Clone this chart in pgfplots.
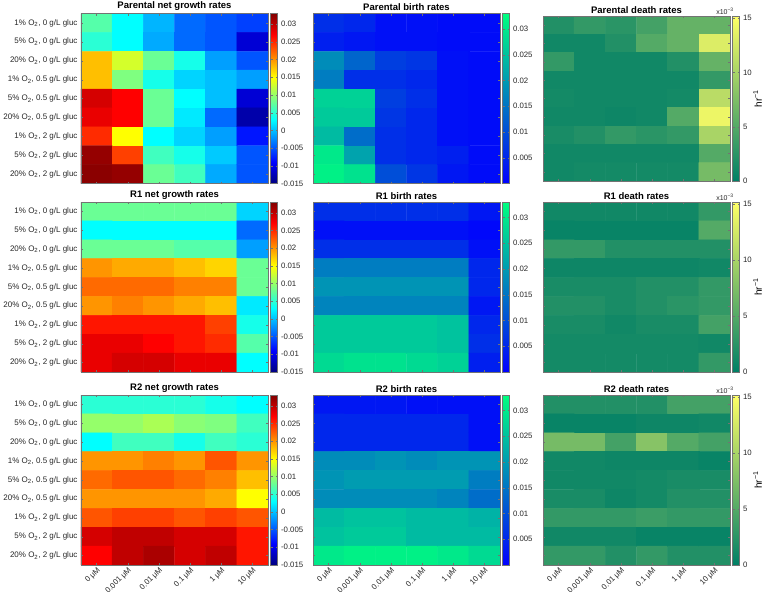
\documentclass[border=0pt]{standalone}
\usepackage{fontspec}
\setmainfont{Liberation Sans}
\usepackage{pgfplots}
\pgfplotsset{compat=1.18}
\pgfplotsset{
  colormap={jetML}{rgb255(0cm)=(0,0,128) rgb255(1cm)=(0,0,255) rgb255(3cm)=(0,255,255) rgb255(5cm)=(255,255,0) rgb255(7cm)=(255,0,0) rgb255(8cm)=(128,0,0)},
  colormap={winterML}{rgb(0cm)=(0,0,1) rgb(1cm)=(0,1,0.5)},
  colormap={summerML}{rgb(0cm)=(0,0.5,0.4) rgb(1cm)=(1,1,0.4)},
  hm/.style={
    scale only axis, width=187pt, height=170pt, anchor=north west,
    xmin=-0.5, xmax=5.5, ymin=-0.5, ymax=8.5, y dir=reverse,
    enlargelimits=false, axis on top,
    xtick={0,...,5}, ytick={0,...,8},
    xticklabel=\empty, yticklabel=\empty,
    tick align=inside, major tick length=2pt,
    axis line style={black!55}, tick style={black!55},
    title style={font=\fontsize{9.5}{11}\selectfont\bfseries, yshift=-7pt},
    tick label style={font=\fontsize{8}{9}\selectfont, text=black!85},
    point meta=explicit,
    colorbar,
    colorbar style={
      width=7pt, at={(parent axis.north east)}, anchor=north west, xshift=-6pt,
      yticklabel pos=right, tick align=inside, major tick length=2pt,
      axis line style={black!55}, tick style={black!55}, scaled y ticks=false,
      tick label style={font=\fontsize{7.8}{9}\selectfont, text=black!85},
    },
  },
  netcb/.style={colormap name=jetML, point meta min=-0.015, point meta max=0.033,
    colorbar style={ytick={-0.015,-0.01,-0.005,0,0.005,0.01,0.015,0.02,0.025,0.03},
      yticklabels={-0.015,-0.01,-0.005,0,0.005,0.01,0.015,0.02,0.025,0.03}}},
  birthcb/.style={colormap name=winterML, point meta min=0, point meta max=0.033,
    colorbar style={ytick={0.005,0.01,0.015,0.02,0.025,0.03},
      yticklabels={0.005,0.01,0.015,0.02,0.025,0.03}}},
  deathcb/.style={colormap name=summerML, point meta min=0, point meta max=15.2,
    colorbar style={ytick={0,5,10,15}, yticklabels={0,5,10,15},
      extra description/.code={
        \node[anchor=south east, inner sep=0pt, font=\fontsize{7}{8}\selectfont, text=black!85] at (axis description cs:0.2,1.005) {x10\textsuperscript{−3}};
        \node[xshift=18pt, rotate=90, font=\fontsize{10}{12}\selectfont] at (axis description cs:1,0.5) {hr\textsuperscript{−1}};
      }}},
  rowlabels/.style={yticklabels={{1\% O\textsubscript{2}, 0 g/L gluc},{5\% O\textsubscript{2}, 0 g/L gluc},{20\% O\textsubscript{2}, 0 g/L gluc},{1\% O\textsubscript{2}, 0.5 g/L gluc},{5\% O\textsubscript{2}, 0.5 g/L gluc},{20\% O\textsubscript{2}, 0.5 g/L gluc},{1\% O\textsubscript{2}, 2 g/L gluc},{5\% O\textsubscript{2}, 2 g/L gluc},{20\% O\textsubscript{2}, 2 g/L gluc}}},
  collabels/.style={xticklabels={0 μM,0.001 μM,0.01 μM,0.1 μM,1 μM,10 μM},
    xticklabel style={rotate=45, anchor=north east, inner sep=1pt, font=\fontsize{7.8}{9}\selectfont}},
}
\begin{document}
\begin{tikzpicture}
\useasboundingbox (0,0) rectangle (764pt,-597pt);
% ---------------- Row 1: Parental
\begin{axis}[hm, netcb, rowlabels, at={(81pt,-13.5pt)}, title={Parental net growth rates}]
\addplot[matrix plot*, mesh/cols=6] coordinates {
(0,0)[0.007] (1,0)[0.003] (2,0)[-0.0005] (3,0)[-0.004] (4,0)[-0.005] (5,0)[-0.006]
(0,1)[0.005] (1,1)[0.003] (2,1)[-0.001] (3,1)[-0.004] (4,1)[-0.005] (5,1)[-0.011]
(0,2)[0.018] (1,2)[0.013] (2,2)[0.008] (3,2)[0.004] (4,2)[-0.0015] (5,2)[-0.005]
(0,3)[0.018] (1,3)[0.009] (2,3)[0.004] (3,3)[0.001] (4,3)[0.0] (5,3)[-0.0015]
(0,4)[0.029] (1,4)[0.027] (2,4)[0.008] (3,4)[0.003] (4,4)[0.0] (5,4)[-0.011]
(0,5)[0.028] (1,5)[0.027] (2,5)[0.008] (3,5)[0.002] (4,5)[-0.004] (5,5)[-0.013]
(0,6)[0.025] (1,6)[0.015] (2,6)[0.003] (3,6)[0.001] (4,6)[-0.0015] (5,6)[-0.008]
(0,7)[0.032] (1,7)[0.024] (2,7)[0.006] (3,7)[0.004] (4,7)[0.0005] (5,7)[-0.005]
(0,8)[0.0325] (1,8)[0.032] (2,8)[0.008] (3,8)[0.006] (4,8)[-0.001] (5,8)[-0.005]
};
\end{axis}
\begin{axis}[hm, birthcb, at={(313pt,-13.5pt)}, title={Parental birth rates}]
\addplot[matrix plot*, mesh/cols=6] coordinates {
(0,0)[0.006] (1,0)[0.005] (2,0)[0.002] (3,0)[0.002] (4,0)[0.0015] (5,0)[0.0015]
(0,1)[0.004] (1,1)[0.003] (2,1)[0.002] (3,1)[0.002] (4,1)[0.0015] (5,1)[0.0015]
(0,2)[0.018] (1,2)[0.013] (2,2)[0.008] (3,2)[0.007] (4,2)[0.002] (5,2)[0.0015]
(0,3)[0.016] (1,3)[0.006] (2,3)[0.006] (3,3)[0.005] (4,3)[0.002] (5,3)[0.0015]
(0,4)[0.027] (1,4)[0.027] (2,4)[0.008] (3,4)[0.006] (4,4)[0.002] (5,4)[0.0015]
(0,5)[0.026] (1,5)[0.026] (2,5)[0.007] (3,5)[0.005] (4,5)[0.002] (5,5)[0.0015]
(0,6)[0.024] (1,6)[0.014] (2,6)[0.006] (3,6)[0.005] (4,6)[0.002] (5,6)[0.0015]
(0,7)[0.030] (1,7)[0.021] (2,7)[0.006] (3,7)[0.005] (4,7)[0.004] (5,7)[0.0015]
(0,8)[0.031] (1,8)[0.029] (2,8)[0.010] (3,8)[0.007] (4,8)[0.003] (5,8)[0.0015]
};
\end{axis}
\begin{axis}[hm, deathcb, at={(543pt,-16pt)}, height=165pt, title={Parental death rates}]
\addplot[matrix plot*, mesh/cols=6] coordinates {
(0,0)[2] (1,0)[3] (2,0)[2.5] (3,0)[4] (4,0)[6] (5,0)[6]
(0,1)[1] (1,1)[1] (2,1)[2] (3,1)[5] (4,1)[6] (5,1)[13]
(0,2)[3] (1,2)[1] (2,2)[1] (3,2)[1] (4,2)[2] (5,2)[6]
(0,3)[1] (1,3)[1] (2,3)[1] (3,3)[1] (4,3)[1] (5,3)[3]
(0,4)[1.2] (1,4)[1] (2,4)[1] (3,4)[1] (4,4)[1.2] (5,4)[11]
(0,5)[1] (1,5)[1] (2,5)[0.8] (3,5)[1] (4,5)[5] (5,5)[14]
(0,6)[1.5] (1,6)[2] (2,6)[3] (3,6)[2.5] (4,6)[3] (5,6)[10]
(0,7)[1] (1,7)[1] (2,7)[1] (3,7)[1] (4,7)[1] (5,7)[5]
(0,8)[1] (1,8)[1.2] (2,8)[1.2] (3,8)[1.2] (4,8)[1.2] (5,8)[7]
};
\end{axis}
% ---------------- Row 2: R1
\begin{axis}[hm, netcb, rowlabels, at={(81pt,-202pt)}, title={R1 net growth rates}]
\addplot[matrix plot*, mesh/cols=6] coordinates {
(0,0)[0.008] (1,0)[0.008] (2,0)[0.008] (3,0)[0.008] (4,0)[0.008] (5,0)[0.001]
(0,1)[0.003] (1,1)[0.003] (2,1)[0.003] (3,1)[0.003] (4,1)[0.003] (5,1)[-0.004]
(0,2)[0.008] (1,2)[0.008] (2,2)[0.008] (3,2)[0.007] (4,2)[0.007] (5,2)[-0.0015]
(0,3)[0.020] (1,3)[0.019] (2,3)[0.019] (3,3)[0.018] (4,3)[0.017] (5,3)[0.008]
(0,4)[0.022] (1,4)[0.022] (2,4)[0.022] (3,4)[0.021] (4,4)[0.021] (5,4)[0.008]
(0,5)[0.020] (1,5)[0.021] (2,5)[0.020] (3,5)[0.019] (4,5)[0.018] (5,5)[0.002]
(0,6)[0.026] (1,6)[0.026] (2,6)[0.026] (3,6)[0.026] (4,6)[0.024] (5,6)[0.004]
(0,7)[0.028] (1,7)[0.028] (2,7)[0.027] (3,7)[0.026] (4,7)[0.025] (5,7)[0.007]
(0,8)[0.028] (1,8)[0.029] (2,8)[0.029] (3,8)[0.028] (4,8)[0.028] (5,8)[0.003]
};
\end{axis}
\begin{axis}[hm, birthcb, at={(313pt,-202pt)}, title={R1 birth rates}]
\addplot[matrix plot*, mesh/cols=6] coordinates {
(0,0)[0.006] (1,0)[0.006] (2,0)[0.006] (3,0)[0.006] (4,0)[0.006] (5,0)[0.003]
(0,1)[0.002] (1,1)[0.002] (2,1)[0.002] (3,1)[0.002] (4,1)[0.002] (5,1)[0.001]
(0,2)[0.006] (1,2)[0.006] (2,2)[0.006] (3,2)[0.006] (4,2)[0.006] (5,2)[0.002]
(0,3)[0.016] (1,3)[0.016] (2,3)[0.016] (3,3)[0.016] (4,3)[0.016] (5,3)[0.005]
(0,4)[0.019] (1,4)[0.019] (2,4)[0.019] (3,4)[0.019] (4,4)[0.019] (5,4)[0.005]
(0,5)[0.017] (1,5)[0.017] (2,5)[0.017] (3,5)[0.017] (4,5)[0.017] (5,5)[0.003]
(0,6)[0.026] (1,6)[0.026] (2,6)[0.026] (3,6)[0.026] (4,6)[0.025] (5,6)[0.005]
(0,7)[0.026] (1,7)[0.026] (2,7)[0.026] (3,7)[0.026] (4,7)[0.025] (5,7)[0.006]
(0,8)[0.028] (1,8)[0.029] (2,8)[0.029] (3,8)[0.028] (4,8)[0.027] (5,8)[0.004]
};
\end{axis}
\begin{axis}[hm, deathcb, at={(543pt,-202pt)}, title={R1 death rates}]
\addplot[matrix plot*, mesh/cols=6] coordinates {
(0,0)[1] (1,0)[1] (2,0)[1] (3,0)[1] (4,0)[1] (5,0)[3]
(0,1)[0.5] (1,1)[0.5] (2,1)[0.5] (3,1)[0.5] (4,1)[0.5] (5,1)[5]
(0,2)[3] (1,2)[3] (2,2)[2] (3,2)[2] (4,2)[2] (5,2)[2]
(0,3)[0.8] (1,3)[0.8] (2,3)[0.8] (3,3)[0.8] (4,3)[0.8] (5,3)[1]
(0,4)[1.5] (1,4)[1.5] (2,4)[1.5] (3,4)[2] (4,4)[2] (5,4)[3]
(0,5)[2] (1,5)[2] (2,5)[1.5] (3,5)[2] (4,5)[2.5] (5,5)[3]
(0,6)[1.5] (1,6)[1.5] (2,6)[1] (3,6)[1.5] (4,6)[1.5] (5,6)[4]
(0,7)[1.2] (1,7)[1.2] (2,7)[1.2] (3,7)[1.2] (4,7)[1.2] (5,7)[1]
(0,8)[1.2] (1,8)[1.2] (2,8)[1.2] (3,8)[1.2] (4,8)[1.2] (5,8)[3]
};
\end{axis}
% ---------------- Row 3: R2
\begin{axis}[hm, netcb, rowlabels, collabels, at={(81pt,-395pt)}, title={R2 net growth rates}]
\addplot[matrix plot*, mesh/cols=6] coordinates {
(0,0)[0.005] (1,0)[0.005] (2,0)[0.005] (3,0)[0.005] (4,0)[0.004] (5,0)[0.003]
(0,1)[0.010] (1,1)[0.010] (2,1)[0.011] (3,1)[0.0095] (4,1)[0.009] (5,1)[0.006]
(0,2)[0.003] (1,2)[0.006] (2,2)[0.006] (3,2)[0.004] (4,2)[0.006] (5,2)[0.005]
(0,3)[0.020] (1,3)[0.020] (2,3)[0.021] (3,3)[0.020] (4,3)[0.023] (5,3)[0.020]
(0,4)[0.022] (1,4)[0.023] (2,4)[0.023] (3,4)[0.022] (4,4)[0.021] (5,4)[0.018]
(0,5)[0.020] (1,5)[0.020] (2,5)[0.020] (3,5)[0.020] (4,5)[0.019] (5,5)[0.015]
(0,6)[0.023] (1,6)[0.024] (2,6)[0.024] (3,6)[0.023] (4,6)[0.024] (5,6)[0.023]
(0,7)[0.029] (1,7)[0.030] (2,7)[0.030] (3,7)[0.029] (4,7)[0.029] (5,7)[0.026]
(0,8)[0.027] (1,8)[0.030] (2,8)[0.031] (3,8)[0.029] (4,8)[0.030] (5,8)[0.026]
};
\end{axis}
\begin{axis}[hm, birthcb, collabels, at={(313pt,-395pt)}, title={R2 birth rates}]
\addplot[matrix plot*, mesh/cols=6] coordinates {
(0,0)[0.003] (1,0)[0.003] (2,0)[0.003] (3,0)[0.002] (4,0)[0.002] (5,0)[0.002]
(0,1)[0.005] (1,1)[0.005] (2,1)[0.005] (3,1)[0.005] (4,1)[0.005] (5,1)[0.002]
(0,2)[0.005] (1,2)[0.005] (2,2)[0.005] (3,2)[0.005] (4,2)[0.005] (5,2)[0.002]
(0,3)[0.018] (1,3)[0.018] (2,3)[0.019] (3,3)[0.018] (4,3)[0.019] (5,3)[0.019]
(0,4)[0.019] (1,4)[0.020] (2,4)[0.020] (3,4)[0.020] (4,4)[0.020] (5,4)[0.016]
(0,5)[0.018] (1,5)[0.018] (2,5)[0.018] (3,5)[0.018] (4,5)[0.017] (5,5)[0.014]
(0,6)[0.024] (1,6)[0.025] (2,6)[0.025] (3,6)[0.024] (4,6)[0.024] (5,6)[0.023]
(0,7)[0.025] (1,7)[0.026] (2,7)[0.026] (3,7)[0.024] (4,7)[0.024] (5,7)[0.024]
(0,8)[0.030] (1,8)[0.031] (2,8)[0.031] (3,8)[0.031] (4,8)[0.030] (5,8)[0.028]
};
\end{axis}
\begin{axis}[hm, deathcb, collabels, at={(543pt,-395pt)}, title={R2 death rates}]
\addplot[matrix plot*, mesh/cols=6] coordinates {
(0,0)[2] (1,0)[2] (2,0)[2] (3,0)[2] (4,0)[4] (5,0)[4]
(0,1)[0.5] (1,1)[0.5] (2,1)[0.5] (3,1)[0.8] (4,1)[0.8] (5,1)[1]
(0,2)[7] (1,2)[7] (2,2)[4] (3,2)[8] (4,2)[5] (5,2)[4]
(0,3)[1] (1,3)[1] (2,3)[0.8] (3,3)[0.8] (4,3)[0.8] (5,3)[0.5]
(0,4)[1] (1,4)[1] (2,4)[1] (3,4)[1.2] (4,4)[1.5] (5,4)[1.5]
(0,5)[1.5] (1,5)[1.5] (2,5)[0.8] (3,5)[1.2] (4,5)[2] (5,5)[2]
(0,6)[3] (1,6)[3] (2,6)[3] (3,6)[3.5] (4,6)[3] (5,6)[3]
(0,7)[1] (1,7)[1] (2,7)[1] (3,7)[0.5] (4,7)[0.5] (5,7)[0.5]
(0,8)[3] (1,8)[3] (2,8)[2] (3,8)[3] (4,8)[2] (5,8)[2]
};
\end{axis}
\end{tikzpicture}
\end{document}
